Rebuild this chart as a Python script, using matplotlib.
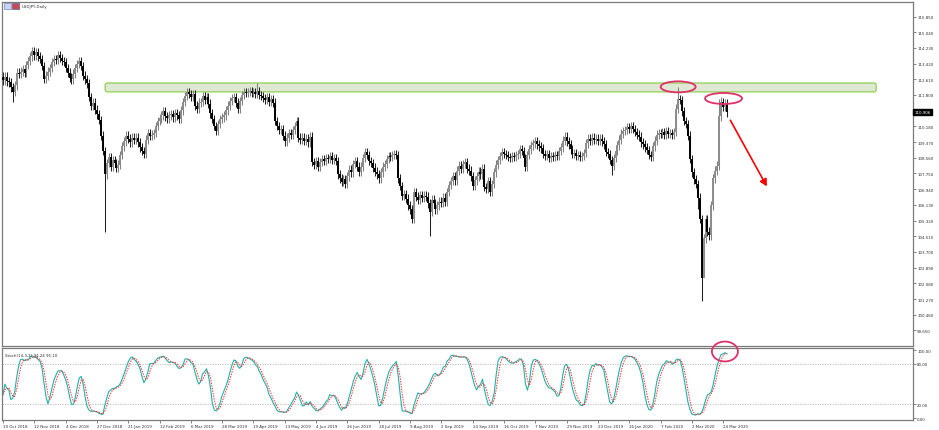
import numpy as np
import pandas as pd
import matplotlib
matplotlib.use("Agg")
import matplotlib.pyplot as plt
from matplotlib.patches import FancyBboxPatch, Ellipse, FancyArrowPatch, Rectangle

# ---------------- data (USDJPY daily closes) ----------------
close = [
    112.55, 112.75, 112.50, 112.45, 112.20, 111.95, 112.30, 112.95, 112.90, 113.00,
    113.15, 112.95, 113.35, 113.55, 113.80, 114.05, 113.85, 114.00, 113.80, 113.65,
    113.30, 112.65, 112.80, 113.00, 113.20, 113.50, 113.65, 113.60, 113.85, 113.70,
    113.55, 113.50, 113.20, 112.95, 112.70, 112.60, 112.90, 113.20, 113.40, 113.55,
    113.30, 112.80, 112.60, 112.40, 111.70, 111.25, 111.40, 111.05, 110.80, 110.50,
    109.70, 108.90, 107.70, 108.30, 108.60, 108.10, 108.45, 108.30, 108.05, 108.20,
    108.70, 109.15, 109.40, 109.70, 109.55, 109.35, 109.60, 109.50, 109.60, 109.35,
    109.10, 108.90, 108.75, 109.50, 109.85, 109.70, 109.75, 109.85, 110.20, 110.45,
    110.60, 110.75, 110.95, 110.70, 110.60, 110.75, 110.80, 110.65, 110.85, 110.75,
    110.55, 111.00, 111.45, 111.75, 111.95, 111.85, 111.70, 111.85, 111.25, 111.10,
    111.40, 111.45, 111.75, 111.55, 111.70, 111.35, 110.85, 110.55, 110.20, 109.95,
    110.30, 110.55, 110.65, 110.75, 111.00, 111.25, 111.50, 111.65, 111.70, 111.40,
    111.10, 111.50, 111.80, 111.95, 111.90, 111.95, 112.00, 111.90, 111.95, 111.85,
    112.00, 111.80, 111.75, 111.65, 111.55, 111.70, 111.45, 111.60, 111.40, 110.45,
    110.20, 110.00, 110.05, 109.70, 109.40, 109.60, 109.85, 109.75, 110.00, 110.20,
    110.45, 109.60, 109.50, 109.60, 109.45, 109.55, 109.35, 109.65, 108.35, 108.20,
    108.40, 108.10, 108.35, 108.50, 108.40, 108.55, 108.50, 108.65, 108.45, 108.55,
    108.40, 107.70, 107.50, 107.30, 107.45, 107.20, 107.60, 107.95, 107.80, 108.25,
    108.40, 108.10, 107.85, 108.10, 108.55, 108.85, 108.70, 108.40, 108.30, 108.05,
    107.85, 107.70, 107.50, 107.80, 108.10, 108.25, 108.50, 108.65, 108.60, 108.70,
    108.75, 108.70, 107.50, 107.10, 106.60, 106.70, 106.45, 106.10, 105.90, 105.40,
    106.80, 106.55, 106.40, 106.65, 106.50, 106.60, 106.55, 106.20, 105.75, 106.40,
    106.20, 105.90, 106.10, 106.30, 106.25, 106.50, 106.30, 106.80, 107.15, 107.35,
    107.60, 107.40, 107.90, 108.15, 108.00, 108.25, 108.35, 108.00, 107.90, 107.60,
    107.10, 107.40, 107.60, 107.85, 107.70, 108.00, 107.05, 106.95, 107.35, 106.80,
    107.20, 107.80, 108.20, 108.45, 108.65, 108.85, 108.75, 108.70, 108.60, 108.55,
    108.65, 108.60, 108.70, 108.75, 109.00, 108.90, 108.55, 108.10, 108.70, 109.00,
    109.20, 109.30, 109.40, 109.25, 109.15, 109.05, 108.75, 108.65, 108.75, 108.55,
    108.65, 108.60, 108.70, 108.65, 108.90, 109.10, 109.45, 109.65, 109.40, 109.25,
    109.00, 108.75, 108.80, 108.65, 108.70, 108.60, 108.65, 108.80, 109.30, 109.55,
    109.45, 109.60, 109.50, 109.55, 109.45, 109.55, 109.40, 109.25, 108.85, 108.75,
    108.45, 108.15, 108.55, 108.90, 109.20, 109.50, 109.80, 109.95, 110.00, 110.15,
    110.05, 110.20, 110.05, 109.90, 109.75, 109.65, 109.35, 109.25, 109.10, 108.95,
    108.70, 108.60, 109.15, 109.45, 109.75, 109.85, 109.80, 109.90, 109.75, 109.95,
    109.80, 109.85, 109.75, 109.90, 111.10, 111.60, 111.55, 110.95, 110.45, 110.30,
    109.70, 108.50, 107.80, 107.45, 107.20, 106.50, 105.40, 102.35, 104.40, 105.40,
    104.75, 104.55, 106.10, 107.50, 107.90, 108.15, 110.70, 111.45, 111.20, 111.35,
    110.91,
]
# notable wick extremes (bar index -> price)
high_marks = {130: 112.40, 345: 112.22, 366: 111.60, 367: 111.72, 368: 111.65}
low_marks = {5: 111.45, 52: 104.74, 218: 104.50, 311: 107.65, 357: 101.18,
             358: 102.40, 355: 105.90}

price_ticks = [115.850, 115.040, 114.230, 113.420, 112.610, 111.800, 110.180,
               109.370, 108.560, 107.750, 106.940, 106.130, 105.320, 104.510,
               103.700, 102.890, 102.080, 101.270, 100.460, 99.650]
stoch_ticks = [100, 80, 20, 0]
date_labels = ["19 Oct 2018", "12 Nov 2018", "4 Dec 2018", "27 Dec 2018",
               "21 Jan 2019", "12 Feb 2019", "6 Mar 2019", "28 Mar 2019",
               "19 Apr 2019", "13 May 2019", "4 Jun 2019", "26 Jun 2019",
               "18 Jul 2019", "9 Aug 2019", "2 Sep 2019", "24 Sep 2019",
               "16 Oct 2019", "7 Nov 2019", "29 Nov 2019", "23 Dec 2019",
               "16 Jan 2020", "7 Feb 2020", "2 Mar 2020", "24 Mar 2020"]
date_step = 16          # bars between date labels
current_price = 110.906
stoch_last = (94.24, 95.10)
zone = (111.96, 112.42)  # resistance zone (price range)

# ---------------- derived OHLC / indicator ----------------
WICK = 0.22
c = np.array(close)
N = len(c)
idx = np.arange(N)
o = np.r_[c[0] + 0.2, c[:-1]]
hi = np.maximum(o, c) + WICK
lo = np.minimum(o, c) - WICK
for k, v in high_marks.items():
    hi[k] = v
for k, v in low_marks.items():
    lo[k] = v

H = pd.Series(hi).rolling(14, min_periods=1).max()
L = pd.Series(lo).rolling(14, min_periods=1).min()
num = (pd.Series(c) - L).rolling(3, min_periods=1).sum()
den = (H - L).rolling(3, min_periods=1).sum()
K = 100 * num / den
D = K.rolling(3, min_periods=1).mean()

# ---------------- figure layout (pixel based) ----------------
W, Hh = 939, 431
fig = plt.figure(figsize=(W / 100, Hh / 100), dpi=100)
fig.patch.set_facecolor("white")

def ax_rect(x0, y0, x1, y1):
    return [x0 / W, 1 - y1 / Hh, (x1 - x0) / W, (y1 - y0) / Hh]

ax = fig.add_axes(ax_rect(2, 3, 913, 346.5))
ax2 = fig.add_axes(ax_rect(2, 348.5, 913, 421))

XMAX = (913 - 2) / 1.957 - 0.5
for a in (ax, ax2):
    a.set_xlim(-0.5, XMAX)
    for s in a.spines.values():
        s.set_color("#7a7a7a")
        s.set_linewidth(0.9)
    a.set_facecolor("white")

ax.set_ylim(98.87, 116.60)
ax2.set_ylim(-2.9, 104.0)

FS = 2.9
TXT = "#303030"

# ---------------- main price panel ----------------
ax.add_patch(FancyBboxPatch((52.2, zone[0]), 394.0, zone[1] - zone[0],
                            boxstyle="round,pad=0,rounding_size=1.2",
                            mutation_aspect=0.1,
                            facecolor="#dfe8d4", edgecolor="#8fd14f",
                            linewidth=0.9, zorder=1))

up = c >= o
ax.vlines(idx[up], lo[up], hi[up], color="#808080", lw=0.75, zorder=2)
ax.vlines(idx[~up], lo[~up], hi[~up], color="#202020", lw=0.75, zorder=2)
ax.vlines(idx[up], o[up], c[up], color="#8c8c8c", lw=1.4, zorder=3)
ax.vlines(idx[~up], c[~up], o[~up], color="#000000", lw=1.4, zorder=3)

# annotations
peak1 = 345
ax.add_patch(Ellipse((peak1, hi[peak1]), 17.9, 0.57, fill=False,
                     edgecolor="#e0306a", lw=1.3, zorder=5))
ax.add_patch(Ellipse((368.2, 111.62), 18.9, 0.57, fill=False,
                     edgecolor="#e0306a", lw=1.3, zorder=5))
ax.add_patch(FancyArrowPatch((371.0, 110.62), (391.0, 106.96),
                             arrowstyle="-|>,head_length=4,head_width=2.2",
                             color="#ff0000", lw=1.2, zorder=5))

ax.yaxis.tick_right()
ax.set_yticks(price_ticks)
ax.set_yticklabels([f"{t:.3f}" for t in price_ticks])
ax.tick_params(axis="y", which="major", length=2, width=0.5, color="#555555",
               labelsize=FS, labelcolor=TXT, pad=1)
ax.set_xticks([])

ax.text(1.0015, current_price, f"{current_price:.3f}", transform=ax.get_yaxis_transform(),
        fontsize=FS, color="white", va="center", ha="left",
        bbox=dict(boxstyle="square,pad=0.25", facecolor="black", edgecolor="black"),
        zorder=10, clip_on=False)

fig.text(22 / W, 1 - 7 / Hh, "USDJPY,Daily", fontsize=FS, color=TXT, va="center", ha="left")
fig.patches.append(Rectangle((4 / W, 1 - 10 / Hh), 7 / W, 6 / Hh, transform=fig.transFigure,
                             facecolor="#c8d4f0", edgecolor="#5a6fb8", lw=0.4))
fig.patches.append(Rectangle((12 / W, 1 - 10 / Hh), 7 / W, 6 / Hh, transform=fig.transFigure,
                             facecolor="#d04848", edgecolor="#3050a0", lw=0.4))

# ---------------- stochastic panel ----------------
for lvl in (80, 20):
    ax2.axhline(lvl, color="#b8b8b8", lw=0.6, ls=(0, (1.5, 1.5)), zorder=1)
ax2.plot(idx, K, color="#20b2aa", lw=0.8, zorder=3)
ax2.plot(idx, D, color="#ff3030", lw=0.7, ls=(0, (1.5, 1.2)), zorder=4)
ax2.add_patch(Ellipse((368.9, 98.1), 13.3, 29.3, fill=False,
                      edgecolor="#e0306a", lw=1.3, zorder=5, clip_on=False))

ax2.text(0.003, 0.93, f"Stoch(14,3,3) {stoch_last[0]:.2f} {stoch_last[1]:.2f}",
         transform=ax2.transAxes, fontsize=FS, color=TXT, va="top", ha="left")

ax2.yaxis.tick_right()
ax2.set_yticks(stoch_ticks)
ax2.set_yticklabels([f"{t:.2f}" for t in stoch_ticks])
ax2.tick_params(axis="y", length=2, width=0.5, color="#555555",
                labelsize=FS, labelcolor=TXT, pad=1)

pos = [i * date_step for i in range(len(date_labels))]
ax2.set_xticks(pos)
ax2.set_xticklabels(date_labels, ha="left")
ax2.tick_params(axis="x", length=2, width=0.5, color="#555555",
                labelsize=FS, labelcolor=TXT, pad=0.8)

fig.savefig("out.png", dpi=100, facecolor="white")
